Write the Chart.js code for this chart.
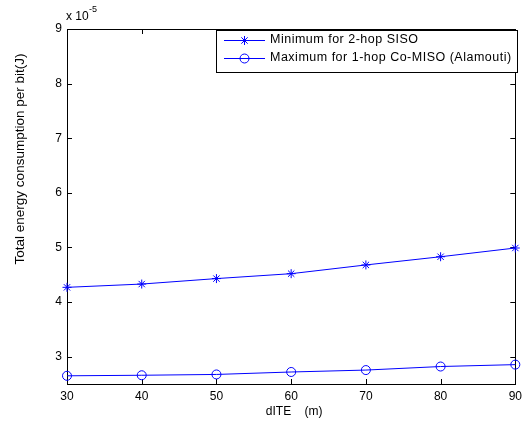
<!DOCTYPE html>
<html>
<head>
<meta charset="utf-8">
<script src="https://cdn.jsdelivr.net/npm/chart.js@4/dist/chart.umd.min.js"></script>
<style>
  html, body { margin: 0; padding: 0; background: #fff; }
  #wrap { width: 527px; height: 423px; position: relative; }
</style>
</head>
<body>
<div id="wrap"><canvas id="c" width="527" height="423"></canvas></div>
<script>
// Distance dITE (m) and energy per bit, in units of 1e-5 J
const distances = [30, 40, 50, 60, 70, 80, 90];
const minTwoHopSiso = [4.27, 4.33, 4.43, 4.52, 4.68, 4.83, 4.99];
const maxOneHopCoMiso = [2.65, 2.66, 2.675, 2.72, 2.755, 2.82, 2.855];
const xTicks = [30, 40, 50, 60, 70, 80, 90];
const yTicks = [3, 4, 5, 6, 7, 8, 9];
const seriesNames = ['Minimum for 2-hop SISO', 'Maximum for 1-hop Co-MISO (Alamouti)'];
const xTitle = 'dITE    (m)';
const yTitle = 'Total energy consumption per bit(J)';

const FONT = '"Liberation Sans", Arial, Helvetica, sans-serif';
const BLUE = '#0000ff';

function pts(vals) { return distances.map((d, i) => ({ x: d, y: vals[i] })); }

// Box frame, inward tick marks, axis titles, exponent and legend
const matlabAxes = {
  id: 'matlabAxes',
  beforeDatasetsDraw(chart) {
    const { ctx, chartArea: a, scales: { x, y } } = chart;
    ctx.save();
    ctx.strokeStyle = '#000';
    ctx.lineWidth = 1;
    ctx.strokeRect(Math.round(a.left) + 0.5, Math.round(a.top) + 0.5,
                   Math.round(a.right - a.left), Math.round(a.bottom - a.top));
    const L = 5;
    ctx.beginPath();
    xTicks.forEach(v => {
      const px = Math.round(x.getPixelForValue(v)) + 0.5;
      ctx.moveTo(px, a.bottom); ctx.lineTo(px, a.bottom - L);
      ctx.moveTo(px, a.top); ctx.lineTo(px, a.top + L);
    });
    yTicks.forEach(v => {
      const py = Math.round(y.getPixelForValue(v)) + 0.5;
      ctx.moveTo(a.left, py); ctx.lineTo(a.left + L, py);
      ctx.moveTo(a.right, py); ctx.lineTo(a.right - L, py);
    });
    ctx.stroke();
    ctx.restore();
  },
  afterDraw(chart) {
    const { ctx, chartArea: a } = chart;
    ctx.save();
    ctx.fillStyle = '#000';
    // x title
    ctx.font = '12px ' + FONT;
    ctx.textAlign = 'center';
    ctx.textBaseline = 'middle';
    ctx.fillText(xTitle, (a.left + a.right) / 2 + 3, 412);
    // y title
    ctx.save();
    ctx.translate(20, 159);
    ctx.rotate(-Math.PI / 2);
    ctx.font = '13.5px ' + FONT;
    ctx.fillText(yTitle, 0, 0);
    ctx.restore();
    // exponent
    ctx.textAlign = 'left';
    ctx.font = '12px ' + FONT;
    ctx.fillText('x 10', a.left - 1, 17);
    ctx.font = '9px ' + FONT;
    ctx.fillText('-5', a.left + 22, 10);

    // legend
    const bx = 216, by = 30, bw = 301, bh = 42;
    ctx.fillStyle = '#fff';
    ctx.fillRect(bx, by, bw, bh);
    ctx.strokeStyle = '#000';
    ctx.lineWidth = 1;
    ctx.strokeRect(bx + 0.5, by + 0.5, bw, bh);
    const rows = [40, 58];
    chart.data.datasets.forEach((ds, i) => {
      const ry = rows[i] + 0.5;
      ctx.strokeStyle = ds.borderColor;
      ctx.lineWidth = 1;
      ctx.beginPath(); ctx.moveTo(224, ry); ctx.lineTo(265, ry); ctx.stroke();
      ctx.fillStyle = 'rgba(0,0,0,0)';
      Chart.helpers.drawPoint(ctx, {
        pointStyle: ds.pointStyle, radius: ds.pointRadius,
        borderWidth: 1, rotation: 0
      }, 244.5, ry);
      ctx.fillStyle = '#000';
      ctx.font = '12.5px ' + FONT;
      ctx.letterSpacing = '0.5px';
      ctx.textAlign = 'left';
      ctx.textBaseline = 'middle';
      ctx.fillText(ds.label, 270, rows[i]);
      ctx.letterSpacing = '0px';
    });
    ctx.restore();
  }
};

new Chart(document.getElementById('c'), {
  type: 'line',
  data: {
    datasets: [
      {
        label: seriesNames[0], data: pts(minTwoHopSiso),
        borderColor: BLUE, backgroundColor: 'transparent', borderWidth: 1,
        pointStyle: 'star', pointRadius: 4.5, pointBorderColor: BLUE, pointBorderWidth: 1,
        tension: 0, clip: false
      },
      {
        label: seriesNames[1], data: pts(maxOneHopCoMiso),
        borderColor: BLUE, backgroundColor: 'transparent', borderWidth: 1,
        pointStyle: 'circle', pointRadius: 4.5, pointBorderColor: BLUE, pointBorderWidth: 1,
        tension: 0, clip: false
      }
    ]
  },
  options: {
    responsive: false,
    animation: false,
    devicePixelRatio: 1,
    layout: { padding: { left: 0, right: 9, top: 29, bottom: 0 } },
    plugins: { legend: { display: false }, tooltip: { enabled: false } },
    scales: {
      x: {
        type: 'linear', min: 30, max: 90,
        afterBuildTicks: s => { s.ticks = xTicks.map(v => ({ value: v })); },
        afterFit: s => { s.height = 39; },
        grid: { display: false, drawTicks: false },
        border: { display: false },
        ticks: { color: '#000', padding: 5, font: { family: FONT, size: 12 }, maxRotation: 0 }
      },
      y: {
        type: 'linear', min: 2.5, max: 9,
        afterBuildTicks: s => { s.ticks = yTicks.map(v => ({ value: v })); },
        afterFit: s => { s.width = 67; },
        grid: { display: false, drawTicks: false },
        border: { display: false },
        ticks: { color: '#000', padding: 5, font: { family: FONT, size: 12 } }
      }
    }
  },
  plugins: [matlabAxes]
});
</script>
</body>
</html>
